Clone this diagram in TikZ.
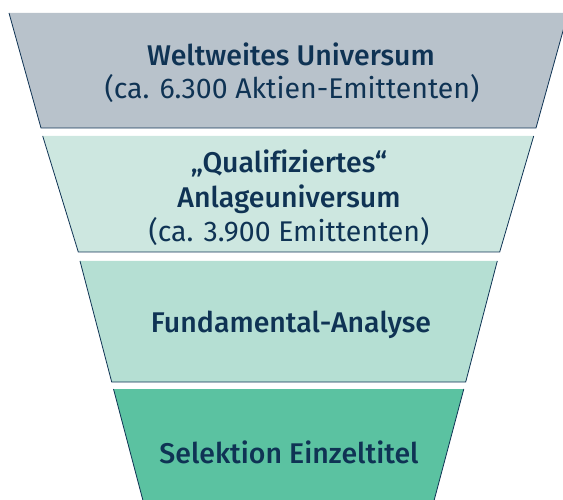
\documentclass[tikz,border=0pt]{standalone}
\usepackage{fontspec}
\setmainfont{Fira Sans}[BoldFont={Fira Sans Medium},Ligatures=CommonOff]
\definecolor{navy}{HTML}{0F3354}
\definecolor{lvlA}{HTML}{B8C2CB}
\definecolor{lvlB}{HTML}{CDE7E0}
\definecolor{lvlC}{HTML}{B5DFD3}
\definecolor{lvlD}{HTML}{5BC2A1}
\tikzset{
  edge/.style={draw=navy,line width=0.8pt,line join=miter},
  lbl/.style={anchor=base,text=navy,inner sep=0pt,font=\fontsize{28.5}{33}\selectfont},
  lblb/.style={lbl,font=\fontsize{28.5}{33}\selectfont\bfseries}
}
\begin{document}
\begin{tikzpicture}[x=1pt,y=-1pt]
\useasboundingbox (0,0) rectangle (563,500);
\clip (0,0) rectangle (563,500);
% level 1
\coordinate (a1) at (9,13); \coordinate (a2) at (568,13);
\coordinate (a3) at (536,128); \coordinate (a4) at (41,128);
\fill[lvlA] (a1)--(a2)--(a3)--(a4)--cycle;
\draw[edge] (a1)--(a4)--(a3)--(a2);
% level 2
\coordinate (b1) at (42.7,136); \coordinate (b2) at (533.7,136);
\coordinate (b3) at (499.7,252); \coordinate (b4) at (78.3,252);
\fill[lvlB] (b1)--(b2)--(b3)--(b4)--cycle;
\draw[edge] (b1)--(b4)--(b3)--(b2);
% level 3
\coordinate (c1) at (80,261); \coordinate (c2) at (497.3,261);
\coordinate (c3) at (465.7,382); \coordinate (c4) at (111.7,382);
\fill[lvlC] (c1)--(c2)--(c3)--(c4)--cycle;
\draw[edge] (c1)--(c4)--(c3)--(c2);
% level 4
\coordinate (d1) at (113.5,389); \coordinate (d2) at (463.8,389);
\coordinate (d3) at (431,512); \coordinate (d4) at (146,512);
\fill[lvlD] (d1)--(d2)--(d3)--(d4)--cycle;
\draw[edge] (d1)--(d4) (d3)--(d2);
% texts
\node[lblb] (t1) at (291,66) {Weltweites Universum};
\node[lbl] (t2) at (292,99) {(ca. 6.300 Aktien-Emittenten)};
\node[lblb] (t3) at (289,173) {„Qualifiziertes“};
\node[lblb] (t4) at (289,208) {Anlageuniversum};
\node[lbl] (t5) at (289,242) {(ca. 3.900 Emittenten)};
\node[lblb] (t6) at (291,332) {Fundamental-Analyse};
\node[lblb] (t7) at (289,463) {Selektion Einzeltitel};
\end{tikzpicture}
\end{document}
